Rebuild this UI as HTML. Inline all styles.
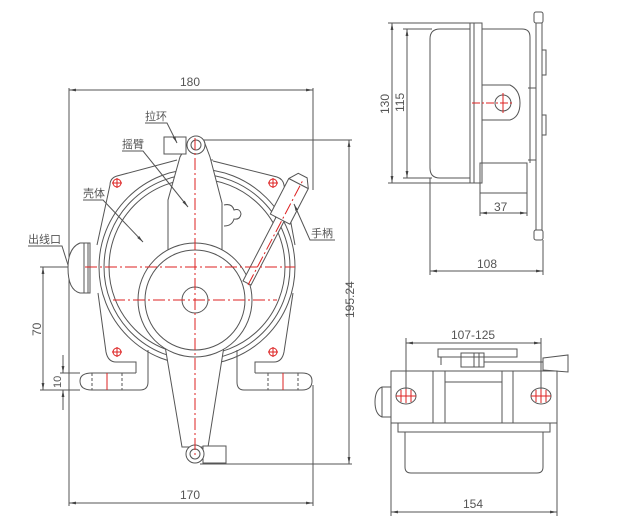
<!DOCTYPE html>
<html><head><meta charset="utf-8"><style>
html,body{margin:0;padding:0;background:#fff}
svg{display:block}
text{font-family:"Liberation Sans","Noto Sans CJK SC",sans-serif;fill:#555}
</style></head><body>
<svg width="630" height="519" viewBox="0 0 630 519" xmlns="http://www.w3.org/2000/svg">
<defs>
<marker id="a" viewBox="0 0 10 10" refX="10" refY="5" markerWidth="7" markerHeight="7" orient="auto-start-reverse"><path d="M0,3 L10,5 L0,7 z" fill="#444"/></marker>
</defs>
<g stroke="#555" stroke-width="1" fill="none">
<!-- dims -->
<line x1="69" y1="88" x2="69" y2="506"/>
<line x1="313" y1="88" x2="313" y2="190"/>
<line x1="313" y1="385" x2="313" y2="506"/>
<line x1="69" y1="90" x2="313" y2="90" marker-start="url(#a)" marker-end="url(#a)"/>
<line x1="69" y1="503" x2="313" y2="503" marker-start="url(#a)" marker-end="url(#a)"/>
<line x1="200" y1="140" x2="352" y2="140"/>
<line x1="200" y1="464" x2="352" y2="464"/>
<line x1="349" y1="140" x2="349" y2="464" marker-start="url(#a)" marker-end="url(#a)"/>
<line x1="40" y1="267" x2="68" y2="267"/>
<line x1="40" y1="390" x2="80" y2="390"/>
<line x1="43" y1="267" x2="43" y2="390" marker-start="url(#a)" marker-end="url(#a)"/>
<line x1="60" y1="373" x2="80" y2="373"/>
<line x1="63" y1="355" x2="63" y2="373" marker-end="url(#a)"/>
<line x1="63" y1="410" x2="63" y2="390" marker-end="url(#a)"/>
<!-- housing polygon -->
<path d="M177,160 L117,176 Q110,178 110,185 L97,245 M98,293 L106,352 Q108,362 116,362 L136,362 L136,373 M277,177 Q283,179 284,185 L295,245 M293,293 L284,352 Q282,362 274,362 L255,362 L255,373 M213,161 L273,176 Q277,177 277,177"/>
<path d="M180,160 L213,160"/>
<circle cx="197" cy="267" r="98"/>
<circle cx="197" cy="267" r="93"/>
<circle cx="197" cy="267" r="88"/>
<!-- feet -->
<path d="M136,373 L92,373 Q80,373 80,381 Q80,390 92,390 L140,390 Q148,390 148,382 L148,350"/>
<path d="M255,373 L302,373 Q312,373 312,381 Q312,390 302,390 L244,390 Q237,390 237,382 L237,350"/>
<line x1="92" y1="373" x2="92" y2="390" stroke-dasharray="3,2"/>
<line x1="122" y1="373" x2="122" y2="390" stroke-dasharray="3,2"/>
<line x1="268" y1="373" x2="268" y2="390" stroke-dasharray="3,2"/>
<line x1="298" y1="373" x2="298" y2="390" stroke-dasharray="3,2"/>
<!-- gland -->
<path d="M90,243 L80,243 Q68,248 68,268 Q68,290 80,293 L90,293 Z" fill="#fff"/>
<line x1="84" y1="243" x2="84" y2="293"/><line x1="88" y1="243" x2="88" y2="293"/>
<!-- swing arm (opaque) -->
<path d="M188,143 L180,157 L168,200 L168,255 L222,255 L222,203 L210,157 L204,141 Z" fill="#fff"/>
<path d="M164,340 L182,447 L208,447 L225,340 Z" fill="#fff"/>
<rect x="164" y="137" width="22" height="17" fill="#fff"/>
<circle cx="196" cy="145" r="9" fill="#fff"/><circle cx="196" cy="145" r="5"/>
<rect x="203" y="446" width="23" height="17" fill="#fff"/>
<circle cx="195" cy="454" r="9" fill="#fff"/><circle cx="195" cy="454" r="5"/>
<!-- bump -->
<path d="M224,205 Q232,203 234,210 Q240,208 241,214 Q240,220 234,219 Q232,226 224,226" fill="#fff"/>
<!-- center discs -->
<circle cx="195" cy="300" r="57" fill="#fff"/>
<circle cx="195" cy="300" r="50"/>
<circle cx="195" cy="300" r="13"/>
<!-- handle -->
<g transform="translate(247,283) rotate(-62.6)">
<rect x="0" y="-4.5" width="76" height="9" fill="#fff"/>
<path d="M72,-11 L112,-11 L121,-5 L121,5 L112,11 L72,11 Z" fill="#fff"/>
<line x1="112" y1="-11" x2="112" y2="11"/>
</g>
<!-- screw holes & centerlines -->
<g stroke="#d22"><circle cx="117" cy="183" r="4"/><circle cx="273" cy="183" r="4"/><circle cx="117" cy="352" r="4"/><circle cx="273" cy="352" r="4"/>
<path d="M112,183h10M117,178v10M268,183h10M273,178v10M112,352h10M117,347v10M268,352h10M273,347v10"/>
<line x1="85" y1="267" x2="295" y2="267" stroke-dasharray="12,3,2,3"/>
<line x1="113" y1="300" x2="277" y2="300" stroke-dasharray="12,3,2,3"/>
<line x1="195" y1="138" x2="195" y2="458" stroke-dasharray="12,3,2,3"/>
<line x1="248" y1="285" x2="303" y2="180" stroke-dasharray="12,3,2,3"/>
<line x1="107" y1="373" x2="107" y2="390"/><line x1="283" y1="373" x2="283" y2="390"/>
</g>
<!-- leaders -->
<path d="M145,123 L167,123 L177,143" marker-end="url(#a)"/>
<path d="M122,151 L143,151 L188,207" marker-end="url(#a)"/>
<path d="M83,200 L103,200 L143,242" marker-end="url(#a)"/>
<path d="M28,246 L62,246 L68,265"/>
<path d="M335,240 L310,240 L294,204" marker-end="url(#a)"/>
<!-- ===== SIDE VIEW ===== -->
<line x1="388" y1="23" x2="470" y2="23"/><line x1="388" y1="183" x2="470" y2="183"/>
<line x1="392" y1="23" x2="392" y2="183" marker-start="url(#a)" marker-end="url(#a)"/>
<line x1="403" y1="29" x2="432" y2="29"/><line x1="403" y1="178" x2="432" y2="178"/>
<line x1="407" y1="29" x2="407" y2="178" marker-start="url(#a)" marker-end="url(#a)"/>
<path d="M470,29 L440,29 Q430,29 430,39 L430,168 Q430,178 440,178 L470,178"/>
<rect x="470" y="23" width="12" height="160"/>
<line x1="474" y1="23" x2="474" y2="183"/>
<path d="M482,29 L522,29 Q530,29 530,37 L530,163"/>
<path d="M482,85 L510,85 Q520,90 520,103 Q520,117 510,120 L482,120"/>
<circle cx="503" cy="103" r="8"/>
<rect x="480" y="163" width="47" height="30"/>
<rect x="534" y="12" width="9" height="11" rx="2"/>
<rect x="534" y="230" width="9" height="10" rx="2"/>
<path d="M536,23 L536,230 M542,23 L542,230 M528,88 L536,88 L536,160 L528,160 M542,50 L546,50 L546,75 L542,75 M542,115 L546,115 L546,135 L542,135"/>
<line x1="480" y1="193" x2="480" y2="216"/><line x1="527" y1="193" x2="527" y2="216"/>
<line x1="480" y1="213" x2="527" y2="213" marker-start="url(#a)" marker-end="url(#a)"/>
<line x1="430" y1="178" x2="430" y2="275"/><line x1="543" y1="240" x2="543" y2="275"/>
<line x1="430" y1="271" x2="543" y2="271" marker-start="url(#a)" marker-end="url(#a)"/>
<g stroke="#d22"><line x1="472" y1="103" x2="512" y2="103" stroke-dasharray="8,2,2,2"/><line x1="503" y1="93" x2="503" y2="113"/></g>
<!-- ===== BOTTOM VIEW ===== -->
<line x1="406" y1="338" x2="406" y2="398"/><line x1="541" y1="338" x2="541" y2="398"/>
<line x1="406" y1="343" x2="541" y2="343" marker-start="url(#a)" marker-end="url(#a)"/>
<rect x="438" y="349" width="79" height="8"/>
<rect x="461" y="353" width="23" height="14"/><line x1="474" y1="353" x2="474" y2="367"/><line x1="479" y1="353" x2="479" y2="367"/>
<path d="M441,357 L441,365 M484,362 L543,362 M543,358 L568,355 L568,372 L543,370 Z"/>
<rect x="391" y="371" width="166" height="52"/>
<path d="M433,371v52M445,371v52M502,371v52M513,371v52M445,382h57"/>
<path d="M391,387 L382,387 Q375,390 375,402 Q375,414 382,417 L391,417 M382,387v30"/>
<ellipse cx="406" cy="396" rx="10" ry="8"/><ellipse cx="541" cy="396" rx="10" ry="8"/>
<rect x="398" y="423" width="152" height="9"/>
<path d="M405,432 L405,467 Q405,473 411,473 L537,473 Q543,473 543,467 L543,432"/>
<line x1="391" y1="423" x2="391" y2="516"/><line x1="557" y1="423" x2="557" y2="516"/>
<line x1="391" y1="512" x2="557" y2="512" marker-start="url(#a)" marker-end="url(#a)"/>
<g stroke="#d22"><path d="M396,396h20M401,390v12M406,389v14M411,390v12M531,396h20M536,390v12M541,389v14M546,390v12"/></g>
</g>
<g font-size="12">
<text x="180" y="86">180</text>
<text x="180" y="499">170</text>
<text x="494" y="211">37</text>
<text x="477" y="268">108</text>
<text x="451" y="339">107-125</text>
<text x="463" y="508">154</text>
<text transform="translate(354,318) rotate(-90)">195.24</text>
<text transform="translate(41,336) rotate(-90)">70</text>
<text transform="translate(61,388) rotate(-90)" font-size="11">10</text>
<text transform="translate(389,114) rotate(-90)">130</text>
<text transform="translate(404,112) rotate(-90)">115</text>
</g>
<g font-size="11">
<text x="145" y="120">拉环</text>
<text x="122" y="148">摇臂</text>
<text x="83" y="197">壳体</text>
<text x="28" y="243">出线口</text>
<text x="311" y="237">手柄</text>
</g>
</svg>
</body></html>
